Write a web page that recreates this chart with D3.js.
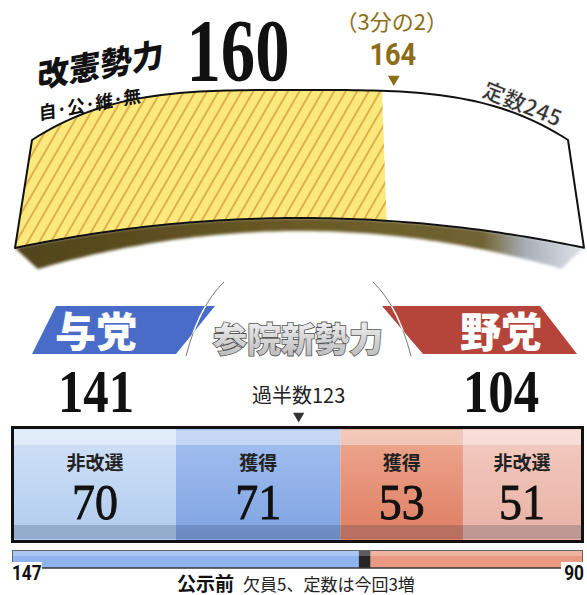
<!DOCTYPE html>
<html><head><meta charset="utf-8">
<script src="https://cdn.jsdelivr.net/npm/d3@7"></script>
<style>body{margin:0;background:#fff;} svg{display:block}</style>
</head><body>
<script>
// ---------- data ----------
const totalSeats = 245;
const kaikenLabel = "改憲勢力";
const kaikenParties = "自·公·維·無";
const kaikenSeats = 160;
const twoThirdsLabel = "（3分の2）";
const twoThirdsSeats = 164;
const majorityLabel = "過半数";
const majoritySeats = 123;
const chamberTitle = "参院新勢力";
const blocNames = ["与党", "野党"];
const blocTotals = [141, 104];
const segmentLabels = ["非改選", "獲得", "獲得", "非改選"];
const segmentValues = [70, 71, 53, 51];
const priorLabels = ["与党", "欠員", "野党"];
const priorValues = [147, 5, 90];
const priorTitle = "公示前";
const priorNote = "欠員5、定数は今回3増";

// ---------- setup ----------
const W = 587, H = 595;
const svg = d3.select("body").append("svg").attr("width", W).attr("height", H);
const defs = svg.append("defs");
const SANS = "'Noto Sans CJK JP','Noto Sans',sans-serif";
const SERIF = "'Liberation Serif','DejaVu Serif',serif";

// ---------- arc band (改憲勢力) ----------
const bandT = d3.scaleLinear().domain([0, totalSeats]).range([0, 1]);
const topX = d3.scaleLinear().domain([0, 1]).range([32, 568]);
const botX = d3.scaleLinear().domain([0, 1]).range([15, 584]);
const topY = x => 90 + 50 * Math.pow(Math.abs(x - 300) / 268, 3.5);
const botY = x => 218 + 30 * Math.pow(Math.abs(x - 300) / 285, 2);

function facePts(t0, t1) {
  const n = 80, pts = [];
  for (let i = 0; i <= n; i++) { const x = topX(t0 + (t1 - t0) * i / n); pts.push([x, topY(x)]); }
  for (let i = n; i >= 0; i--) { const x = botX(t0 + (t1 - t0) * i / n); pts.push([x, botY(x)]); }
  return pts;
}
function depthPts() {
  const n = 80, pts = [];
  for (let i = 0; i <= n; i++) { const x = botX(i / n); pts.push([x, botY(x)]); }
  for (let i = n; i >= 0; i--) {
    const x = botX(i / n), r = Math.abs(x - 300) / 285;
    pts.push([x + (300 - x) * 0.08, botY(x) + 13 + 8 * r * r]);
  }
  return pts;
}
const line = d3.line();

// hatch pattern
const pat = defs.append("pattern").attr("id", "hatch").attr("patternUnits", "userSpaceOnUse")
  .attr("width", 10).attr("height", 10).attr("patternTransform", "rotate(30)");
pat.append("rect").attr("width", 10).attr("height", 10).attr("fill", "#fce97c");
pat.append("line").attr("x1", 5).attr("x2", 5).attr("y1", 0).attr("y2", 10)
  .attr("stroke", "#cf9133").attr("stroke-width", 1.3);

const dg = defs.append("linearGradient").attr("id", "depthG").attr("x1", 0).attr("x2", 1);
[[0, "#4f431a"], [0.5, "#6a5a26"], [0.82, "#6f6231"], [0.9, "#aab0b8"], [1, "#dfe4ea"]]
  .forEach(([o, c]) => dg.append("stop").attr("offset", o).attr("stop-color", c));
const blur = defs.append("filter").attr("id", "soft").attr("x", "-5%").attr("y", "-20%").attr("width", "110%").attr("height", "140%");
blur.append("feGaussianBlur").attr("stdDeviation", 1.6);

svg.append("path").attr("d", line(depthPts()) + "Z").attr("fill", "url(#depthG)").attr("filter", "url(#soft)");
svg.append("path").attr("d", line(facePts(0, 1)) + "Z").attr("fill", "#fff");
svg.append("path").attr("d", line(facePts(0, bandT(kaikenSeats))) + "Z").attr("fill", "url(#hatch)");
svg.append("path").attr("d", line(facePts(0, 1)) + "Z").attr("fill", "none")
  .attr("stroke", "#111").attr("stroke-width", 2).attr("stroke-linejoin", "round");

// two-thirds marker
const mx = topX(bandT(twoThirdsSeats)) + 3;
const gold = "#8c6c16";
svg.append("path").attr("d", d3.symbol(d3.symbolTriangle, 60)()).attr("fill", gold)
  .attr("transform", `translate(${mx},${topY(mx) - 12}) rotate(180)`);
svg.append("text").attr("x", mx - 2).attr("y", 30).attr("text-anchor", "middle")
  .attr("font-family", SANS).attr("font-size", 22).attr("fill", gold).text(twoThirdsLabel);
svg.append("g").attr("transform", `translate(${mx - 1},65) scale(0.85,1)`)
  .append("text").attr("text-anchor", "middle").attr("font-family", "Roboto,sans-serif")
  .attr("font-weight", 700).attr("font-size", 32).attr("fill", gold).text(twoThirdsSeats);

// titles
svg.append("text").attr("transform", "translate(37,88) rotate(-10) skewX(-12)")
  .attr("font-family", SANS).attr("font-weight", 900).attr("font-size", 32).attr("fill", "#111")
  .text(kaikenLabel);
svg.append("text").attr("transform", "translate(39,120) rotate(-10) skewX(-8)")
  .attr("font-family", SANS).attr("font-weight", 700).attr("font-size", 18).attr("fill", "#111")
  .text(kaikenParties);
svg.append("g").attr("transform", "translate(238,80) scale(0.8,1.04)")
  .append("text").attr("text-anchor", "middle").attr("font-family", SERIF).attr("font-weight", 700)
  .attr("font-size", 86).attr("fill", "#111").text(kaikenSeats);
svg.append("text").attr("transform", "translate(481,96) rotate(22)")
  .attr("font-family", SANS).attr("font-weight", 700).attr("font-size", 22).attr("fill", "#333")
  .attr("stroke", "#fff").attr("stroke-width", 0.5).text("定数" + totalSeats);

// ---------- middle bloc labels ----------
const blocColors = ["#4a6cc9", "#b5443a"];
const blocShapes = [
  [[56, 306], [215, 306], [176, 354], [32, 354]],
  [[382, 306], [540, 306], [577, 354], [423, 354]]
];
const decoArcs = ["M224,282 Q199,306 186,356", "M373,282 Q398,306 411,356"];
blocShapes.forEach((s, i) => {
  defs.append("clipPath").attr("id", "bc" + i).append("path").attr("d", line(s) + "Z");
  svg.append("path").attr("d", line(s) + "Z").attr("fill", blocColors[i]);
  svg.append("path").attr("d", decoArcs[i]).attr("fill", "none").attr("stroke", "#777").attr("stroke-width", 1);
  svg.append("path").attr("d", decoArcs[i]).attr("fill", "none").attr("stroke", "#fff").attr("stroke-width", 1.5)
    .attr("clip-path", `url(#bc${i})`);
});
const blocLabelX = [96, 501];
blocNames.forEach((n, i) => {
  svg.append("text").attr("x", blocLabelX[i]).attr("y", 347).attr("text-anchor", "middle")
    .attr("font-family", SANS).attr("font-weight", 900).attr("font-size", 41).attr("fill", "#fff").text(n);
  svg.append("g").attr("transform", `translate(${blocLabelX[i]},412) scale(0.82,1)`)
    .append("text").attr("text-anchor", "middle").attr("font-family", SERIF).attr("font-weight", 700)
    .attr("font-size", 62).attr("fill", "#111").text(blocTotals[i]);
});
const tg = defs.append("linearGradient").attr("id", "titleG").attr("x1", 0).attr("x2", 0).attr("y1", 0).attr("y2", 1);
tg.append("stop").attr("offset", 0).attr("stop-color", "#fafafa");
tg.append("stop").attr("offset", 1).attr("stop-color", "#b5b5b5");
svg.append("text").attr("x", 298).attr("y", 352).attr("text-anchor", "middle")
  .attr("font-family", SANS).attr("font-weight", 900).attr("font-size", 34)
  .attr("fill", "url(#titleG)").attr("stroke", "#555").attr("stroke-width", 1.6)
  .attr("paint-order", "stroke").text(chamberTitle);

// ---------- main stacked bar ----------
const xS = d3.scaleLinear().domain([0, totalSeats]).range([14, 581]);
const barTop = 429, barBot = 540;
const segColors = [["#d2e2f7", "#b0cbef"], ["#a4c0f0", "#7ea3e2"], ["#eca991", "#df7d61"], ["#f3cbc1", "#e9b1a4"]];
let acc = 0;
const segs = segmentValues.map((v, i) => { const s = { i, v, x0: acc, x1: acc + v }; acc += v; return s; });
segs.forEach(s => {
  const g = defs.append("linearGradient").attr("id", "sg" + s.i).attr("x1", 0).attr("x2", 0).attr("y1", 0).attr("y2", 1);
  g.append("stop").attr("offset", 0).attr("stop-color", segColors[s.i][0]);
  g.append("stop").attr("offset", 1).attr("stop-color", segColors[s.i][1]);
});
const sg = svg.append("g");
sg.selectAll("rect.seg").data(segs).join("rect").attr("class", "seg")
  .attr("x", d => xS(d.x0)).attr("width", d => xS(d.x1) - xS(d.x0))
  .attr("y", barTop).attr("height", barBot - barTop).attr("fill", d => `url(#sg${d.i})`);
sg.selectAll("rect.hi").data(segs).join("rect").attr("class", "hi")
  .attr("x", d => xS(d.x0)).attr("width", d => xS(d.x1) - xS(d.x0))
  .attr("y", barTop + 1).attr("height", 15).attr("fill", "#fff").attr("opacity", 0.38);
sg.selectAll("rect.lo").data(segs).join("rect").attr("class", "lo")
  .attr("x", d => xS(d.x0)).attr("width", d => xS(d.x1) - xS(d.x0))
  .attr("y", barBot - 15).attr("height", 14).attr("fill", "#2a3550").attr("opacity", 0.22);
sg.selectAll("text.lab").data(segs).join("text").attr("class", "lab")
  .attr("x", d => (xS(d.x0) + xS(d.x1)) / 2).attr("y", 470).attr("text-anchor", "middle")
  .attr("font-family", SANS).attr("font-weight", 700).attr("font-size", 19).attr("fill", "#222")
  .text(d => segmentLabels[d.i]);
sg.selectAll("g.num").data(segs).join("g").attr("class", "num")
  .attr("transform", d => `translate(${(xS(d.x0) + xS(d.x1)) / 2},519) scale(0.9,1)`)
  .append("text").attr("text-anchor", "middle").attr("font-family", SERIF).attr("font-weight", 400)
  .attr("font-size", 51).attr("fill", "#111").attr("stroke", "#111").attr("stroke-width", 0.9)
  .text(d => d.v);
svg.append("rect").attr("x", 12.5).attr("y", barTop - 1.5).attr("width", 570).attr("height", barBot - barTop + 3)
  .attr("fill", "none").attr("stroke", "#111").attr("stroke-width", 3);

// majority marker
const majX = xS(majoritySeats);
svg.append("text").attr("x", majX).attr("y", 403).attr("text-anchor", "middle")
  .attr("font-family", SANS).attr("font-size", 20).attr("fill", "#222").text(majorityLabel + majoritySeats);
svg.append("path").attr("d", d3.symbol(d3.symbolTriangle, 55)()).attr("fill", "#333")
  .attr("transform", `translate(${majX},416) rotate(180)`);

// ---------- prior bar (公示前) ----------
const pS = d3.scaleLinear().domain([0, d3.sum(priorValues)]).range([12, 583]);
const priorColors = ["#8fb3ec", "#262626", "#ea9a80"];
let pa = 0;
const psegs = priorValues.map((v, i) => { const s = { i, v, x0: pa, x1: pa + v }; pa += v; return s; });
svg.selectAll("rect.prior").data(psegs).join("rect").attr("class", "prior")
  .attr("x", d => pS(d.x0)).attr("width", d => pS(d.x1) - pS(d.x0))
  .attr("y", 551).attr("height", 17).attr("fill", d => priorColors[d.i]);
svg.append("rect").attr("x", 12).attr("y", 551).attr("width", 571).attr("height", 5).attr("fill", "#fff").attr("opacity", 0.25);
svg.append("rect").attr("x", 12.5).attr("y", 550.5).attr("width", 570).attr("height", 17.5)
  .attr("fill", "none").attr("stroke", "#666").attr("stroke-width", 1);
svg.append("line").attr("x1", 12).attr("x2", 583).attr("y1", 568).attr("y2", 568).attr("stroke", "#222").attr("stroke-width", 1.2);
svg.append("rect").attr("x", 11).attr("y", 562).attr("width", 31).attr("height", 20).attr("fill", "#fff");
svg.append("rect").attr("x", 561).attr("y", 562).attr("width", 24).attr("height", 20).attr("fill", "#fff");
svg.append("g").attr("transform", "translate(12,580) scale(0.82,1)").append("text")
  .attr("font-family", "Roboto,sans-serif").attr("font-weight", 700).attr("font-size", 21).attr("fill", "#111")
  .text(priorValues[0]);
svg.append("g").attr("transform", "translate(584,580) scale(0.82,1)").append("text").attr("text-anchor", "end")
  .attr("font-family", "Roboto,sans-serif").attr("font-weight", 700).attr("font-size", 21).attr("fill", "#111")
  .text(priorValues[2]);
svg.append("text").attr("x", 177).attr("y", 591).attr("font-family", SANS).attr("font-weight", 700)
  .attr("font-size", 19).attr("fill", "#111").text(priorTitle);
svg.append("text").attr("x", 243).attr("y", 591).attr("font-family", SANS)
  .attr("font-size", 17).attr("fill", "#222").text(priorNote);
</script>
</body></html>
